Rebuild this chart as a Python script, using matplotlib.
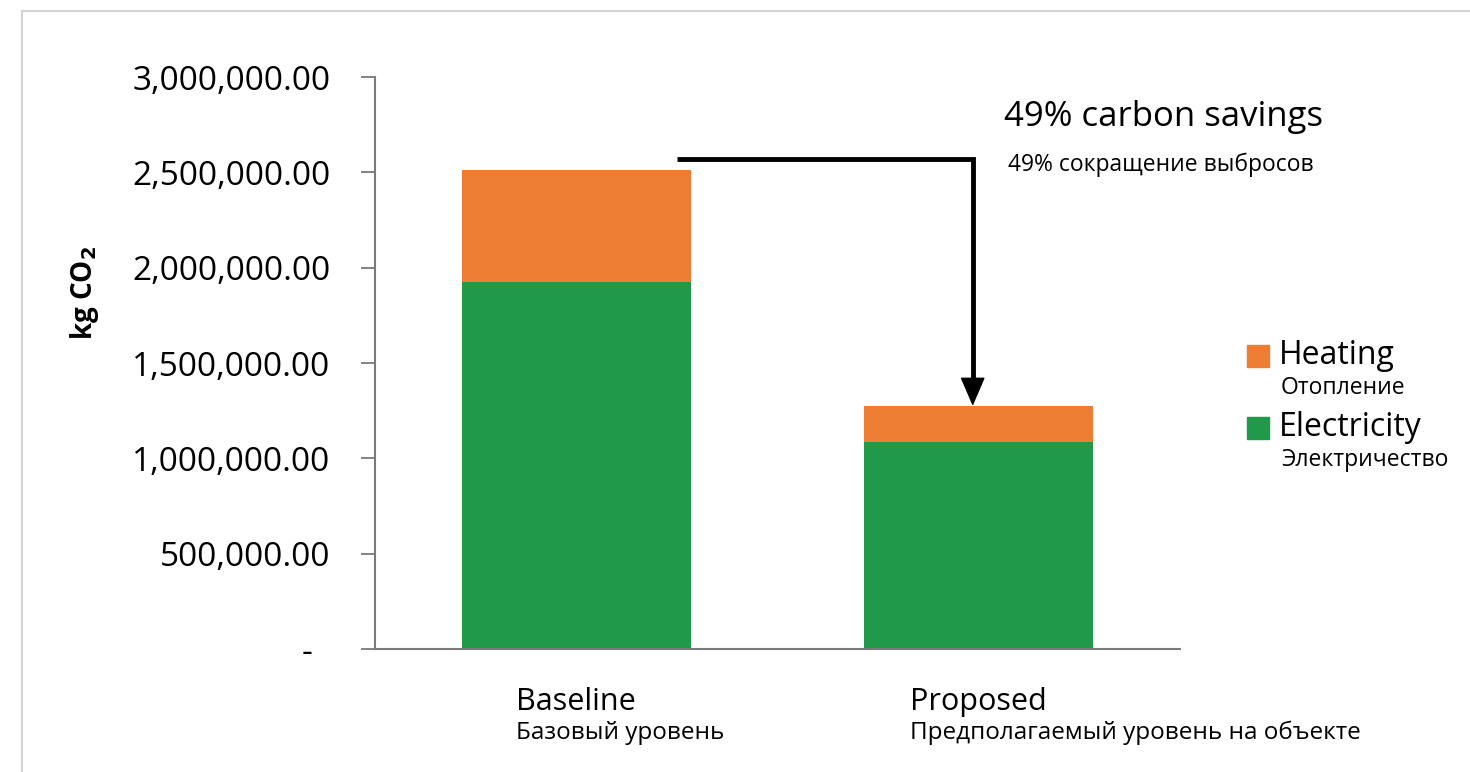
import matplotlib
matplotlib.use("Agg")
import matplotlib.pyplot as plt
from matplotlib.patches import Rectangle
from matplotlib.lines import Line2D
from matplotlib.ticker import FuncFormatter

plt.rcParams['font.family'] = ['Open Sans', 'DejaVu Sans']

categories = ["Baseline", "Proposed"]
categories_ru = ["Базовый уровень", "Предполагаемый уровень на объекте"]
electricity = [1925000, 1088000]
heating = [588000, 187000]
series_names = ["Heating", "Electricity"]
series_names_ru = ["Отопление", "Электричество"]
savings_text = "49% carbon savings"
savings_text_ru = "49% сокращение выбросов"

ORANGE = "#EC7D33"
GREEN = "#21994A"
AXIS_GREY = "#7a7a7a"

fig = plt.figure(figsize=(14.7, 7.72), dpi=100)
ax = fig.add_axes([375 / 1470, 1 - 649 / 772, 805 / 1470, (649 - 77) / 772])

x = list(range(len(categories)))
totals = [e + h for e, h in zip(electricity, heating)]
ax.bar(x, electricity, width=0.57, color=GREEN, edgecolor="none")
ax.bar(x, heating, width=0.57, bottom=electricity, color=ORANGE, edgecolor="none")

ax.set_xlim(-0.5, 1.5)
ax.set_ylim(0, 3000000)
ax.set_yticks(range(0, 3000001, 500000))
ax.yaxis.set_major_formatter(FuncFormatter(lambda v, p: "-  " if v == 0 else f"{v:,.2f}"))
ax.tick_params(axis="y", length=10, width=1.3, color=AXIS_GREY, pad=22, labelsize=24)
ax.tick_params(axis="x", length=0, labelbottom=False)
for s in ["top", "right"]:
    ax.spines[s].set_visible(False)
for s in ["left", "bottom"]:
    ax.spines[s].set_color(AXIS_GREY)
    ax.spines[s].set_linewidth(1.5)

ax.set_ylabel(r"kg CO$_\mathbf{2}$", fontsize=20, fontweight="bold")
ax.yaxis.set_label_coords(-0.34, 0.622)

# category labels: English centred under bar, Russian left-aligned under it
fig.canvas.draw()
renderer = fig.canvas.get_renderer()
for i, (name, name_ru) in enumerate(zip(categories, categories_ru)):
    t = ax.text(i, -0.093, name, transform=ax.get_xaxis_transform(),
                ha="center", va="center", fontsize=22)
    bb = t.get_window_extent(renderer)
    x0 = ax.transData.inverted().transform((bb.x0, 0))[0]
    ax.text(x0, -0.147, name_ru, transform=ax.get_xaxis_transform(),
            ha="left", va="center", fontsize=17.5)

# savings arrow from baseline total down to proposed total
y_line = 2570000
ax.plot([0.25, 0.985, 0.985], [y_line, y_line, totals[1] + 100000],
        color="black", lw=3.5, solid_joinstyle="miter", solid_capstyle="butt",
        clip_on=False)
ax.annotate("", xy=(0.985, totals[1]), xytext=(0.985, totals[1] + 150000),
            arrowprops=dict(arrowstyle="-|>,head_length=0.93,head_width=0.4",
                            color="black", lw=1, mutation_scale=20,
                            shrinkA=0, shrinkB=0))

fig.text(1004 / 1470, 1 - 117 / 772, savings_text, fontsize=25,
         ha="left", va="center")
fig.text(1008 / 1470, 1 - 165 / 772, savings_text_ru, fontsize=16.5,
         ha="left", va="center")

# legend
for j, (name, name_ru, col) in enumerate(zip(series_names, series_names_ru, [ORANGE, GREEN])):
    ytop = 345 + j * 72
    fig.add_artist(Rectangle((1247 / 1470, 1 - (ytop + 22) / 772), 22 / 1470, 22 / 772,
                             transform=fig.transFigure, color=col))
    fig.text(1279 / 1470, 1 - (ytop + 10) / 772, name, fontsize=23,
             ha="left", va="center")
    fig.text(1281 / 1470, 1 - (ytop + 43) / 772, name_ru, fontsize=16.5,
             ha="left", va="center")

# light frame on top and left edges
fig.add_artist(Line2D([22 / 1470, 1], [1 - 11 / 772] * 2, transform=fig.transFigure,
                      color="#d3d3d3", lw=1.5))
fig.add_artist(Line2D([22 / 1470] * 2, [0, 1 - 11 / 772], transform=fig.transFigure,
                      color="#d3d3d3", lw=1.5))

fig.savefig("out.png", dpi=100)
